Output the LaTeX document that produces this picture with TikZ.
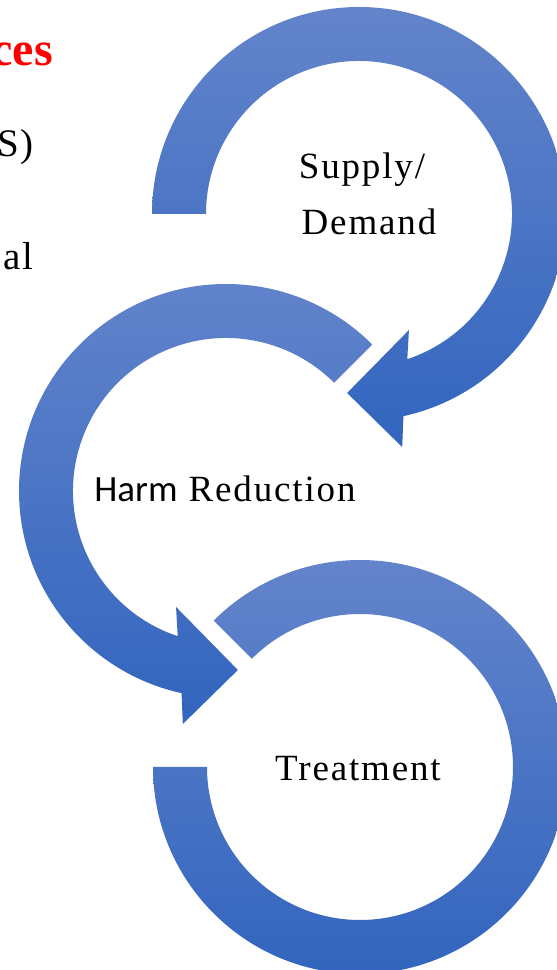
\documentclass[tikz,border=0pt]{standalone}
\usepackage{fontspec}
\setmainfont{Liberation Serif}
\newfontfamily\spaced[LetterSpace=5]{Liberation Serif}
\newfontfamily\calibri{Carlito}
\definecolor{ringtop}{RGB}{99,132,203}
\definecolor{ringbot}{RGB}{50,101,190}
\tikzstyle{ring}=[top color=ringtop, bottom color=ringbot, draw=none]
\tikzstyle{lbl}=[inner sep=0pt, font=\fontsize{37}{44}\selectfont\spaced]
\tikzstyle{edge}=[lbl, anchor=base east]

\begin{document}
\begin{tikzpicture}[x=1pt,y=1pt]
\clip (0,0) rectangle (557,970);
% centres of the rings
\coordinate (sd) at (359,756);
\coordinate (hr) at (226,479);
\coordinate (tr) at (360,203);

% top ring, head ends bottom left
\begin{scope}[shift={(sd)}]
\path[ring] (180:207) arc[start angle=180,end angle=-77.6,radius=207] -- (-79.5:237) -- (-93.8:179.4) -- (-66.7:126.3) -- (-71.6:153) arc[start angle=-71.6,end angle=180,radius=153] -- cycle;
\end{scope}

% middle ring = top ring flipped, tail cut at 45 deg
\begin{scope}[shift={(hr)},xscale=-1]
\path[ring] (135:207) arc[start angle=135,end angle=-77.6,radius=207] -- (-79.5:237) -- (-93.8:179.4) -- (-66.7:126.3) -- (-71.6:153) arc[start angle=-71.6,end angle=135,radius=153] -- cycle;
\end{scope}

% bottom ring, no head
\begin{scope}[shift={(tr)}]
\path[ring] (180:207) arc[start angle=180,end angle=495,radius=207] -- (495:153) arc[start angle=495,end angle=180,radius=153] -- cycle;
\end{scope}

\node[lbl, anchor=base] (supply) at (362,791) {Supply/};
\node[lbl, anchor=base] (demand) at (369,735) {Demand};
\node[lbl, anchor=base] (harm) at (225,468) {{\calibri Harm} Reduction};
\node[lbl, anchor=base] (treat) at (358,189) {Treatment};

% text cut off at the left border
\node[edge, text=red, font=\fontsize{48}{54}\selectfont\bfseries] (ces) at (53,904) {ces};
\node[edge, font=\fontsize{39}{46}\selectfont\spaced] (spar) at (34,813) {S)};
\node[edge, font=\fontsize{39}{46}\selectfont\spaced] (al) at (34,700) {al};
\end{tikzpicture}
\end{document}
